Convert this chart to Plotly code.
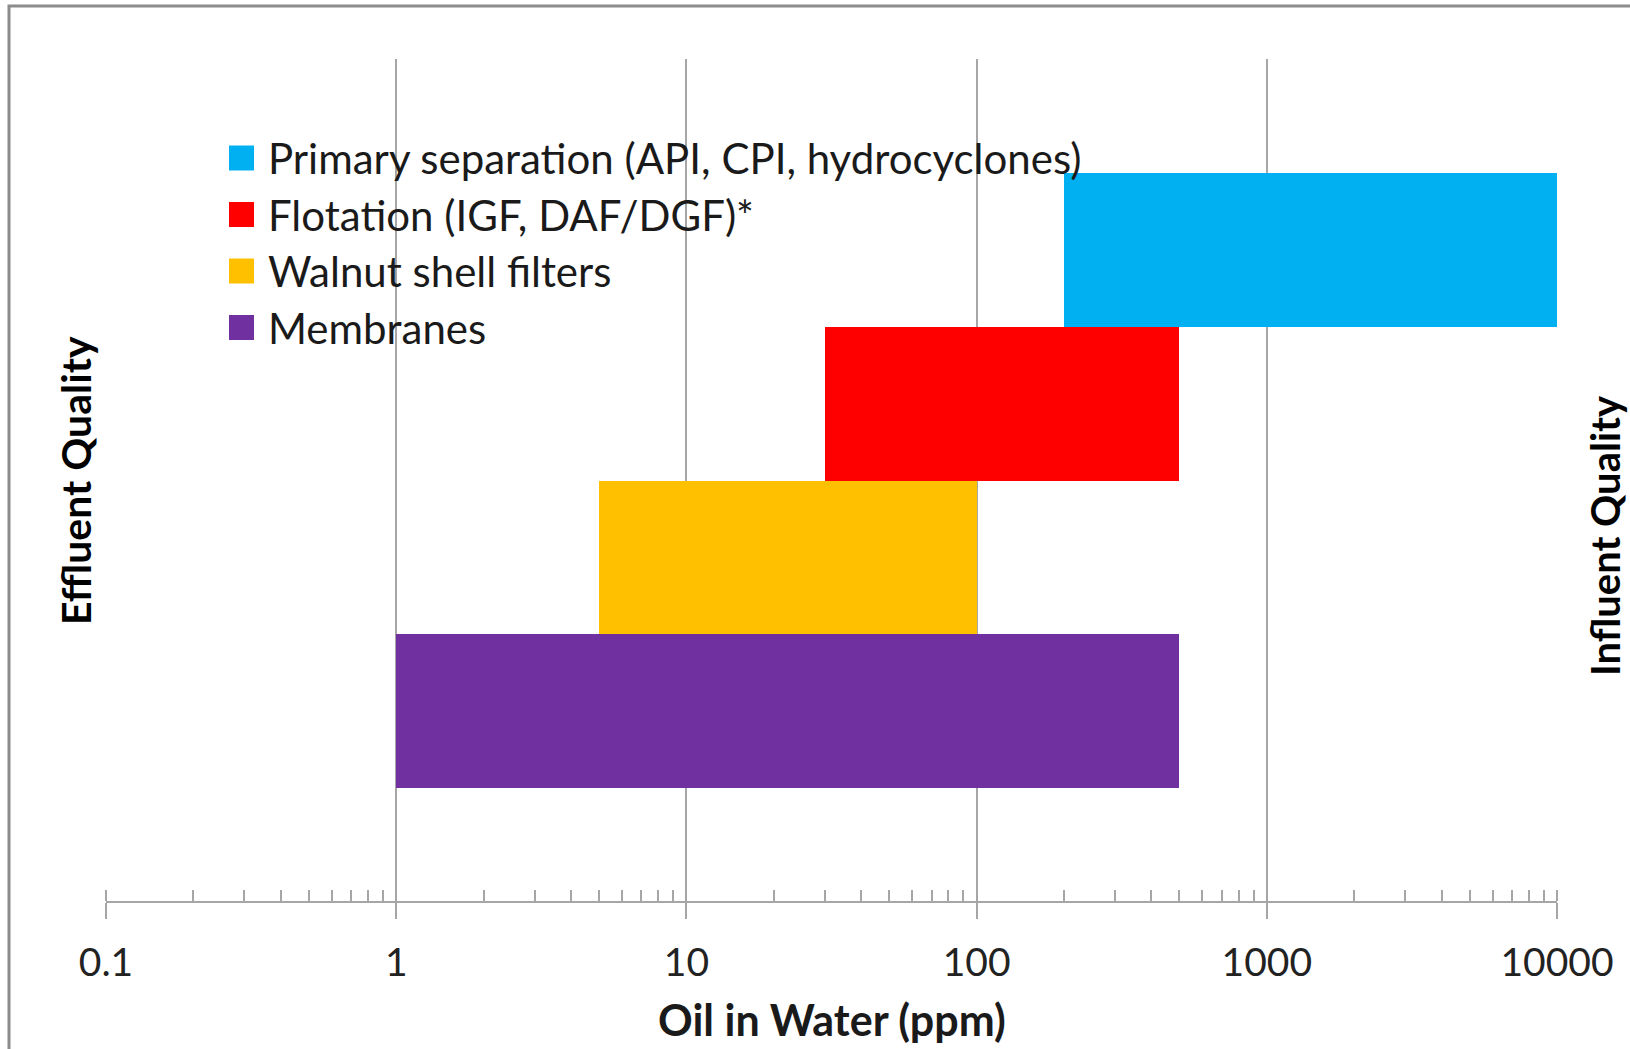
import plotly.graph_objects as go

# ---- data ----
technologies = [
    "Primary separation (API, CPI, hydrocyclones)",
    "Flotation (IGF, DAF/DGF)*",
    "Walnut shell filters",
    "Membranes",
]
low_ppm = [200, 30, 5, 1]
high_ppm = [10000, 500, 100, 500]
colors = ["#00B0F0", "#FF0000", "#FFC000", "#7030A0"]
tick_vals = [0.1, 1, 10, 100, 1000, 10000]
tick_text = ["0.1", "1", "10", "100", "1000", "10000"]

FONT = "Lato"
W, H = 1630, 1049
ML, MR, MT, MB = 106, 73, 59, 148
PW, PH = W - ML - MR, H - MT - MB

def px_x(px):
    return (px - ML) / PW

def px_y(py):
    return (H - MB - py) / PH

fig = go.Figure()
cat_order = list(reversed(technologies))  # bottom-to-top
for name, lo, hi, col in zip(technologies, low_ppm, high_ppm, colors):
    fig.add_trace(go.Bar(
        y=[name], x=[hi - lo], base=[lo], orientation="h",
        name=name, width=1.0,
        marker=dict(color=col, line=dict(width=0)),
        showlegend=False, hoverinfo="name",
    ))

# legend drawn as layout decorations (large squares like the original)
LEG_SQ_X0, LEG_SQ_X1, LEG_TXT_X = 229, 254, 266
LEG_ROW0, LEG_STEP, LEG_SQ = 158, 56.5, 25
shapes = []
annotations = []
for i, (name, col) in enumerate(zip(technologies, colors)):
    cy = LEG_ROW0 + i * LEG_STEP
    shapes.append(dict(
        type="rect", xref="paper", yref="paper",
        x0=px_x(LEG_SQ_X0), x1=px_x(LEG_SQ_X1),
        y0=px_y(cy + LEG_SQ / 2), y1=px_y(cy - LEG_SQ / 2),
        fillcolor=col, line=dict(width=0), layer="above",
    ))
    annotations.append(dict(
        text=name, xref="paper", yref="paper",
        x=px_x(LEG_TXT_X), y=px_y(cy), showarrow=False,
        xanchor="left", yanchor="middle",
        font=dict(family=FONT, size=42, color="#1a1a1a"),
    ))

shapes.append(dict(
    type="rect", xref="paper", yref="paper",
    x0=px_x(9), x1=px_x(1700), y0=px_y(1120), y1=px_y(6),
    line=dict(color="#8C8C8C", width=3), fillcolor="rgba(0,0,0,0)", layer="below",
))

annotations += [
    dict(text="<b>Oil in Water (ppm)</b>", xref="paper", yref="paper",
         x=px_x(832), y=px_y(1019), showarrow=False,
         font=dict(family=FONT, size=43, color="#1a1a1a"), xanchor="center", yanchor="middle"),
    dict(text="<b>Effluent Quality</b>", xref="paper", yref="paper",
         x=px_x(75), y=px_y(481), showarrow=False, textangle=-90,
         font=dict(family=FONT, size=41, color="#000000"), xanchor="center", yanchor="middle"),
    dict(text="<b>Influent Quality</b>", xref="paper", yref="paper",
         x=px_x(1605), y=px_y(536), showarrow=False, textangle=-90, borderpad=0,
         font=dict(family=FONT, size=40, color="#000000"), xanchor="center", yanchor="middle"),
]

fig.update_layout(
    width=W, height=H,
    margin=dict(l=ML, r=MR, t=MT, b=MB, autoexpand=False),
    paper_bgcolor="white", plot_bgcolor="white",
    barmode="overlay", bargap=0,
    showlegend=False,
    font=dict(family=FONT, color="#222222"),
    xaxis=dict(
        type="log", range=[-1, 4],
        tickvals=tick_vals, ticktext=tick_text,
        showgrid=True, gridcolor="#A6A6A6", gridwidth=2,
        showline=True, linecolor="#A6A6A6", linewidth=2,
        ticks="outside", ticklen=16, tickwidth=2, tickcolor="#A6A6A6",
        ticklabelstandoff=10,
        tickfont=dict(family=FONT, size=39, color="#222222"),
        minor=dict(ticks="inside", ticklen=11, tickwidth=1.5, tickcolor="#A6A6A6",
                   showgrid=False, dtick="D1"),
        zeroline=False,
    ),
    yaxis=dict(
        type="category", categoryorder="array", categoryarray=cat_order,
        range=[-1.232, 4.239], visible=False, showgrid=False,
    ),
    shapes=shapes,
    annotations=annotations,
)

fig.write_html("out.html", config={"displayModeBar": False},
               post_script="document.body.style.margin='0';")
